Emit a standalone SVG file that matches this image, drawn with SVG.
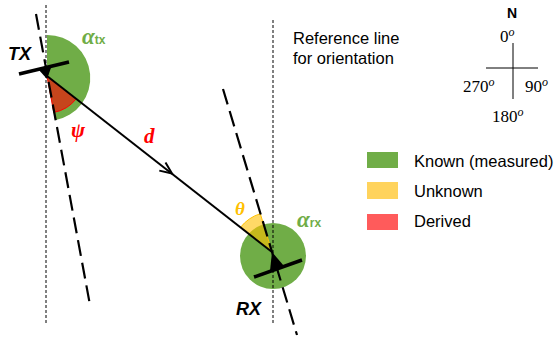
<svg xmlns="http://www.w3.org/2000/svg" width="560" height="346" viewBox="0 0 560 346">
<style>
.ref{stroke:#000;stroke-width:1;stroke-dasharray:3 2;fill:none}
.ant{stroke:#000;stroke-width:2.2;stroke-dasharray:16 7;fill:none}
.bar{stroke:#000;stroke-width:3.5;fill:none}
.txt{font-family:"Liberation Sans",Arial,sans-serif;font-size:16.5px;fill:#000}
.lbl{font-family:"Liberation Sans",Arial,sans-serif;font-size:18px;font-weight:bold;font-style:italic;fill:#000}
.math{font-family:"Liberation Serif","Times New Roman",serif;font-style:italic}
.num{font-family:"Liberation Serif","Times New Roman",serif;font-size:17px;fill:#000}
.sup{font-style:italic;font-size:12px}
.sub{font-family:"Liberation Sans",Arial,sans-serif;font-size:12px;font-weight:bold}
</style>
<rect width="560" height="346" fill="#fff"/>
<g id="sectors">
<path d="M47,78 L47,35 A43,43 0 0 1 55,120.3 Z" fill="#70ad47"/>
<circle cx="273" cy="256" r="33" fill="#70ad47"/>
<path d="M47,76 L76.2,98.8 A37,37 0 0 1 53.8,112.4 Z" fill="#ff0000" fill-opacity="0.6" stroke="#ff0000" stroke-width="1"/>
<path d="M272,252 L240.5,227.4 A40,40 0 0 1 260.3,213.7 Z" fill="#ffc000" fill-opacity="0.6" stroke="#ffc000" stroke-width="1"/>
</g>
<g id="reference-lines">
<line class="ref" x1="46" y1="5" x2="46" y2="325"/>
<line class="ref" x1="273" y1="20" x2="273" y2="325"/>
</g>
<g id="connectors">
<line class="ant" x1="36" y1="14" x2="90" y2="305"/>
<line class="ant" x1="223" y1="89" x2="297" y2="335"/>
<line x1="47" y1="76" x2="272" y2="252" stroke="#000" stroke-width="2"/>
<polyline points="159.3,170.6 172,173.5 165.5,162.5" fill="none" stroke="#000" stroke-width="2"/>
</g>
<g id="TX">
<line class="bar" x1="19" y1="74" x2="69" y2="62"/>
<polygon points="38,69 52,65 47,79" fill="#000"/>
<text class="lbl" x="8" y="60">TX</text>
</g>
<g id="RX">
<line class="bar" x1="254" y1="277" x2="302" y2="260"/>
<polygon points="272,252 284,266 270,271" fill="#000"/>
<text class="lbl" x="236" y="315">RX</text>
</g>
<g id="labels">
<text x="82" y="44" fill="#70ad47"><tspan class="math" font-size="23" font-weight="bold">α</tspan><tspan class="sub">tx</tspan></text>
<text x="297" y="227" fill="#70ad47"><tspan class="math" font-size="23" font-weight="bold">α</tspan><tspan class="sub">rx</tspan></text>
<text class="math" x="71" y="137" font-size="21" font-weight="bold" fill="#ff0000">ψ</text>
<text class="math" x="144" y="143" font-size="21" font-weight="bold" fill="#ff0000">d</text>
<text class="math" x="235" y="215" font-size="19" font-weight="bold" fill="#ffc000">θ</text>
</g>
<g id="reference-note">
<text class="txt" x="293" y="44">Reference line</text>
<text class="txt" x="293" y="64">for orientation</text>
</g>
<g id="compass">
<text x="507" y="18" font-family="Liberation Sans,Arial,sans-serif" font-size="14" font-weight="bold">N</text>
<text class="num" x="500" y="42">0<tspan class="sup" dy="-6">o</tspan></text>
<line x1="513" y1="43" x2="513" y2="99" stroke="#000" stroke-width="1"/>
<line x1="486" y1="68" x2="538" y2="68" stroke="#000" stroke-width="1"/>
<text class="num" x="463" y="92">270<tspan class="sup" dy="-6">o</tspan></text>
<text class="num" x="525" y="92">90<tspan class="sup" dy="-6">o</tspan></text>
<text class="num" x="492" y="122">180<tspan class="sup" dy="-6">o</tspan></text>
</g>
<g id="legend">
<rect x="367" y="152" width="31" height="16" fill="#70ad47"/>
<text class="txt" x="414" y="167">Known (measured)</text>
<rect x="367" y="182" width="31" height="17" fill="#ffd35c"/>
<text class="txt" x="414" y="197">Unknown</text>
<rect x="367" y="214" width="31" height="16" fill="#ff5b5b"/>
<text class="txt" x="414" y="227">Derived</text>
</g>
</svg>
